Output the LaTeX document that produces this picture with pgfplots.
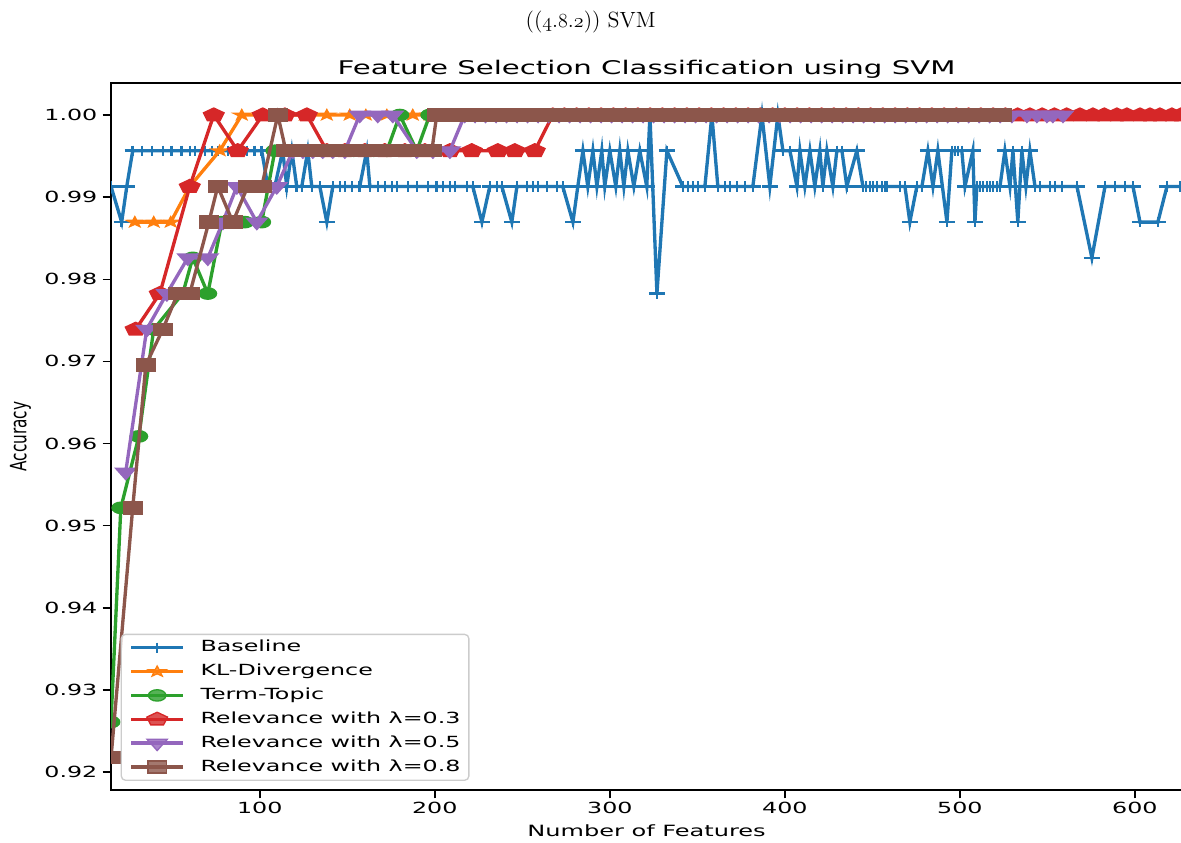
\documentclass[border=0pt]{standalone}
\usepackage{fontspec}
\usepackage{pgfplots}
\pgfplotsset{compat=1.18}
\usetikzlibrary{plotmarks}

\newfontfamily\plotfont{DejaVu Sans}[FakeStretch=1.55]
\newfontfamily\ylabfont{DejaVu Sans}[FakeStretch=0.68]
% old-style digits taken from the math italic font
\newcommand\osn[1]{{\fontencoding{OML}\fontfamily{cmm}\fontseries{m}\fontshape{it}\selectfont #1}}

\definecolor{c0}{HTML}{1F77B4}
\definecolor{c1}{HTML}{FF7F0E}
\definecolor{c2}{HTML}{2CA02C}
\definecolor{c3}{HTML}{D62728}
\definecolor{c4}{HTML}{9467BD}
\definecolor{c5}{HTML}{8C564B}

% filled five-pointed star
\pgfdeclareplotmark{fstar}{%
  \pgfpathmoveto{\pgfpointpolar{90}{\pgfplotmarksize}}%
  \pgfpathlineto{\pgfpointpolar{126}{0.4\pgfplotmarksize}}%
  \pgfpathlineto{\pgfpointpolar{162}{\pgfplotmarksize}}%
  \pgfpathlineto{\pgfpointpolar{198}{0.4\pgfplotmarksize}}%
  \pgfpathlineto{\pgfpointpolar{234}{\pgfplotmarksize}}%
  \pgfpathlineto{\pgfpointpolar{270}{0.4\pgfplotmarksize}}%
  \pgfpathlineto{\pgfpointpolar{306}{\pgfplotmarksize}}%
  \pgfpathlineto{\pgfpointpolar{342}{0.4\pgfplotmarksize}}%
  \pgfpathlineto{\pgfpointpolar{18}{\pgfplotmarksize}}%
  \pgfpathlineto{\pgfpointpolar{54}{0.4\pgfplotmarksize}}%
  \pgfpathclose
  \pgfusepathqfillstroke}

\begin{document}
\begin{tikzpicture}
\begin{axis}[
  at={(0,0)}, anchor=south west,
  scale only axis, width=642.6pt, height=424.2pt,
  xmin=15, xmax=627, ymin=0.9178, ymax=1.0039,
  clip marker paths=true,
  xtick={100,200,300,400,500,600},
  ytick={0.92,0.93,0.94,0.95,0.96,0.97,0.98,0.99,1.00},
  tick align=outside, xtick pos=left, ytick pos=left,
  major tick length=5pt,
  tick style={black, line width=0.9pt},
  axis line style={line width=1.1pt},
  /pgf/number format/assume math mode=true,
  tick label style={font=\plotfont\fontsize{9.2}{11}\selectfont},
  yticklabel style={/pgf/number format/fixed, /pgf/number format/fixed zerofill, /pgf/number format/precision=2, anchor=east, inner sep=0pt, xshift=-3pt},
  xticklabel style={anchor=north, inner sep=0pt, yshift=-1.8pt},
  title={Feature Selection Classification using SVM},
  title style={font=\plotfont\fontsize{11.3}{13}\selectfont, at={(axis description cs:0.5,1)}, anchor=base, yshift=-1pt, inner sep=0pt},
  xlabel={Number of Features},
  xlabel style={font=\plotfont\fontsize{9.3}{11}\selectfont, at={(axis description cs:0.5,-0.0651)}, anchor=base, inner sep=0pt},
  ylabel={Accuracy},
  ylabel style={font=\ylabfont\fontsize{13.5}{15}\selectfont, at={(axis description cs:-0.0845,0.5)}, anchor=center, inner sep=0pt},
  every axis plot/.append style={line width=2pt},
  legend style={at={(axis description cs:0.009,0.013)}, anchor=south west,
    draw=black!20, line width=0.8pt, rounded corners=2.5pt,
    fill=white, fill opacity=0.8, draw opacity=1, text opacity=1,
    font=\plotfont\fontsize{9.2}{11}\selectfont,
    inner xsep=5pt, inner ysep=3.5pt, row sep=5.3pt,
    nodes={inner sep=0pt, text height=7pt, text depth=2pt}},
  legend cell align=left,
  legend image code/.code={\draw[#1, mark repeat=2, mark phase=2] plot coordinates {(0pt,0pt) (15.5pt,0pt) (31pt,0pt)};},
  /tikz/every odd column/.append style={column sep=9.5pt},
]

% Baseline
\addplot[c0, mark=+, mark size=3.1pt, mark options={solid, xscale=1.55, line width=1.5pt}] coordinates {
(15,0.99130) (21.1,0.98696) (24.0,0.99130) (27.4,0.99565) (32.6,0.99565) (38.3,0.99565)
(44.6,0.99565) (49.7,0.99565) (55.4,0.99565) (60.0,0.99565) (62.9,0.99565) (68.6,0.99565)
(72.6,0.99565) (76.0,0.99565) (81.7,0.99565) (84.6,0.99565) (88.6,0.99565) (92.6,0.99565)
(97.1,0.99565) (101.1,0.99565) (104.6,0.99130) (108.6,0.99130) (113.1,0.99565) (115.4,0.99130)
(118.3,0.99565) (121.1,0.99130) (124.0,0.99130) (127.4,0.99565) (129.7,0.99130) (134.3,0.99130)
(138.3,0.98696) (141.7,0.99130) (145.7,0.99130) (148.6,0.99130) (152.6,0.99130) (157.1,0.99130)
(161.1,0.99565) (162.9,0.99130) (167.4,0.99130) (171.4,0.99130) (175.4,0.99130) (178.3,0.99130)
(184.6,0.99130) (189.7,0.99130) (196.0,0.99130) (201.1,0.99130) (204.6,0.99130) (208.6,0.99130)
(211.4,0.99130) (218.3,0.99130) (221.7,0.99130) (226.9,0.98696) (231.4,0.99130) (235.4,0.99130)
(238.3,0.99130) (244.0,0.98696) (246.9,0.99130) (252.6,0.99130) (256.0,0.99130) (258.9,0.99130)
(264.0,0.99130) (269.7,0.99130) (273.1,0.99130) (278.9,0.98696) (281.7,0.99130) (284.6,0.99565)
(287.4,0.99130) (290.3,0.99565) (292.6,0.99130) (295.4,0.99565) (297.1,0.99130) (300.0,0.99565)
(303.4,0.99130) (305.7,0.99565) (308.0,0.99130) (310.3,0.99565) (313.7,0.99130) (317.1,0.99565)
(321.1,0.99130) (322.9,1.00000) (326.9,0.97826) (332.6,0.99565) (341.7,0.99130) (344.6,0.99130)
(347.4,0.99130) (350.3,0.99130) (354.3,0.99130) (358.3,1.00000) (361.7,0.99130) (365.7,0.99130)
(368.6,0.99130) (372.6,0.99130) (377.1,0.99130) (381.7,0.99130) (386.9,1.00000) (391.4,0.99130)
(396.0,1.00000) (398.9,0.99565) (402.9,0.99565) (406.9,0.99130) (408.6,0.99565) (411.4,0.99130)
(414.3,0.99565) (417.1,0.99130) (420.0,0.99565) (421.7,0.99130) (424.0,0.99565) (427.4,0.99130)
(429.7,0.99565) (432.6,0.99565) (435.4,0.99130) (441.1,0.99565) (444.6,0.99130) (446.3,0.99130)
(448.6,0.99130) (450.3,0.99130) (452.6,0.99130) (455.4,0.99130) (457.1,0.99130) (458.3,0.99130)
(465.7,0.99130) (468.6,0.99130) (471.4,0.98696) (475.4,0.99130) (478.3,0.99130) (481.7,0.99565)
(484.6,0.99130) (487.4,0.99565) (492.6,0.98696) (495.4,0.99565) (497.1,0.99565) (498.9,0.99565)
(501.1,0.99565) (502.9,0.99130) (507.4,0.99565) (508.6,0.98696) (509.7,0.99130) (511.4,0.99130)
(513.1,0.99130) (515.4,0.99130) (517.1,0.99130) (518.9,0.99130) (521.1,0.99130) (522.9,0.99130)
(525.7,0.99565) (528.6,0.99130) (530.3,0.99565) (533.1,0.98696) (535.4,0.99565) (537.7,0.99130)
(540.0,0.99565) (542.9,0.99130) (545.7,0.99130) (551.4,0.99130) (554.3,0.99130) (558.3,0.99130)
(566.9,0.99130) (575.4,0.98261) (582.9,0.99130) (588.6,0.99130) (594.3,0.99130) (598.9,0.99130)
(602.9,0.98696) (613.1,0.98696) (618.3,0.99130) (625.7,0.99130)
};
\addlegendentry{Baseline}

% KL-Divergence
\addplot[c1, mark=fstar, mark size=3.3pt, mark options={solid, xscale=1.55, line width=0.8pt, fill=c1}] coordinates {
(28.6,0.98696) (39.4,0.98696) (49.1,0.98696) (60.0,0.99130) (77.1,0.99565) (89.7,1.00000)
(101.1,1.00000) (114.3,1.00000) (125.7,1.00000) (138.3,1.00000) (151.4,1.00000) (160.6,1.00000)
(172.6,1.00000) (187.4,1.00000) (197.1,1.00000) (204,1.00000) (211,1.00000) (218,1.00000)
(225,1.00000) (232,1.00000) (239,1.00000) (246,1.00000) (253,1.00000) (260,1.00000)
(267,1.00000) (274,1.00000) (281,1.00000) (288,1.00000) (295,1.00000) (302,1.00000)
(309,1.00000) (316,1.00000) (323,1.00000) (330,1.00000) (337,1.00000) (344,1.00000)
(351,1.00000) (358,1.00000) (365,1.00000) (372,1.00000) (379,1.00000) (386,1.00000)
(393,1.00000) (400,1.00000) (407,1.00000) (414,1.00000) (421,1.00000) (428,1.00000)
(435,1.00000) (442,1.00000) (449,1.00000) (456,1.00000) (463,1.00000) (470,1.00000)
(477,1.00000) (484,1.00000) (491,1.00000) (498,1.00000) (505,1.00000) (512,1.00000)
(519,1.00000) (526,1.00000) (533,1.00000) (540,1.00000) (547,1.00000)
};
\addlegendentry{KL-Divergence}

% Term-Topic
\addplot[c2, mark=*, mark size=3.4pt, mark options={solid, xscale=1.55, line width=0.8pt, fill=c2}] coordinates {
(15,0.92609) (20.6,0.95217) (30.9,0.96087) (39.4,0.97391) (56.0,0.97826) (61.7,0.98261)
(70.3,0.97826) (78.3,0.98696) (91.4,0.98696) (101.1,0.98696) (108.6,0.99565) (119.4,0.99565)
(130.9,0.99565) (142.3,0.99565) (153.7,0.99565) (165.1,0.99565) (172.6,0.99565) (180.0,1.00000)
(189.7,0.99565) (197.1,1.00000) (203,1.00000) (210,1.00000) (217,1.00000) (224,1.00000)
(231,1.00000) (238,1.00000) (245,1.00000) (252,1.00000) (259,1.00000) (266,1.00000)
(273,1.00000) (280,1.00000) (287,1.00000) (294,1.00000) (301,1.00000) (308,1.00000)
(315,1.00000) (322,1.00000) (329,1.00000) (336,1.00000) (343,1.00000) (350,1.00000)
(357,1.00000) (364,1.00000) (371,1.00000) (378,1.00000) (385,1.00000) (392,1.00000)
(399,1.00000) (406,1.00000) (413,1.00000) (420,1.00000) (427,1.00000) (434,1.00000)
(441,1.00000) (448,1.00000) (455,1.00000) (462,1.00000) (469,1.00000) (476,1.00000)
(483,1.00000) (490,1.00000) (497,1.00000) (504,1.00000) (511,1.00000) (518,1.00000)
};
\addlegendentry{Term-Topic}

% Relevance, lambda = 0.3
\addplot[c3, mark=pentagon*, mark size=4.2pt, mark options={solid, xscale=1.55, line width=0.8pt, fill=c3}] coordinates {
(29.1,0.97391) (42.9,0.97826) (60.0,0.99130) (73.7,1.00000) (87.4,0.99565) (101.7,1.00000)
(114.3,1.00000) (126.9,1.00000) (138.3,0.99565) (148.6,0.99565) (160.0,0.99565) (171.4,0.99565)
(182.9,0.99565) (194.3,0.99565) (208.6,0.99565) (221.1,0.99565) (236.0,0.99565) (245.7,0.99565)
(257.1,0.99565) (267.4,1.00000) (274,1.00000) (281,1.00000) (288,1.00000) (295,1.00000)
(302,1.00000) (309,1.00000) (316,1.00000) (323,1.00000) (330,1.00000) (337,1.00000)
(344,1.00000) (351,1.00000) (358,1.00000) (365,1.00000) (372,1.00000) (379,1.00000)
(386,1.00000) (393,1.00000) (400,1.00000) (407,1.00000) (414,1.00000) (421,1.00000)
(428,1.00000) (435,1.00000) (442,1.00000) (449,1.00000) (456,1.00000) (463,1.00000)
(470,1.00000) (477,1.00000) (484,1.00000) (491,1.00000) (498,1.00000) (505,1.00000)
(512,1.00000) (519,1.00000) (526,1.00000) (533,1.00000) (540,1.00000) (547,1.00000)
(554,1.00000) (561,1.00000) (568.6,1.00000) (576,1.00000) (582.5,1.00000) (589.7,1.00000)
(595.4,1.00000) (602.9,1.00000) (608.6,1.00000) (614.3,1.00000) (621.1,1.00000) (626.3,1.00000)
};
\addlegendentry{Relevance with λ=0.3}

% Relevance, lambda = 0.5
\addplot[c4, mark=triangle*, mark size=4.5pt, mark options={solid, rotate=180, xscale=1.55, line width=0.8pt, fill=c4}] coordinates {
(23.4,0.95652) (35.4,0.97391) (46.9,0.97826) (58.9,0.98261) (70.3,0.98261) (78.9,0.98696)
(86.9,0.99130) (98.3,0.98696) (109.7,0.99130) (118.9,0.99565) (124.6,0.99565) (130.3,0.99565)
(136.0,0.99565) (141.7,0.99565) (148.6,0.99565) (157.1,1.00000) (167.4,1.00000) (176.0,1.00000)
(189.7,0.99565) (198.9,0.99565) (208.6,0.99565) (217.1,1.00000) (223,1.00000) (229,1.00000)
(235,1.00000) (241,1.00000) (247,1.00000) (253,1.00000) (259,1.00000) (265,1.00000)
(271,1.00000) (277,1.00000) (283,1.00000) (289,1.00000) (295,1.00000) (301,1.00000)
(307,1.00000) (313,1.00000) (319,1.00000) (325,1.00000) (331,1.00000) (337,1.00000)
(343,1.00000) (349,1.00000) (355,1.00000) (361,1.00000) (367,1.00000) (373,1.00000)
(379,1.00000) (385,1.00000) (391,1.00000) (397,1.00000) (403,1.00000) (409,1.00000)
(415,1.00000) (421,1.00000) (427,1.00000) (433,1.00000) (439,1.00000) (445,1.00000)
(451,1.00000) (457,1.00000) (463,1.00000) (469,1.00000) (475,1.00000) (481,1.00000)
(487,1.00000) (493,1.00000) (499,1.00000) (505,1.00000) (511,1.00000) (517,1.00000)
(523,1.00000) (529.7,1.00000) (538.3,1.00000) (544,1.00000) (549.7,1.00000) (553.1,1.00000)
(558.9,1.00000)
};
\addlegendentry{Relevance with λ=0.5}

% Relevance, lambda = 0.8
\addplot[c5, mark=square*, mark size=3.6pt, mark options={solid, xscale=1.55, line width=0.8pt, fill=c5}] coordinates {
(15,0.92174) (27.4,0.95217) (34.9,0.96957) (44.6,0.97391) (53.1,0.97826) (60.0,0.97826)
(70.9,0.98696) (76.0,0.99130) (84.6,0.98696) (93.1,0.99130) (101.1,0.99130) (110.3,1.00000)
(114.9,0.99565) (120.0,0.99565) (124.6,0.99565) (128.6,0.99565) (133.1,0.99565) (137.1,0.99565)
(141.7,0.99565) (145.7,0.99565) (150.3,0.99565) (154.3,0.99565) (158.9,0.99565) (162.9,0.99565)
(167.4,0.99565) (171.4,0.99565) (176.0,0.99565) (180.0,0.99565) (184.6,0.99565) (188.6,0.99565)
(193.1,0.99565) (198.3,0.99565) (201.1,1.00000) (206.5,1.00000) (212,1.00000) (217.5,1.00000)
(223,1.00000) (228.5,1.00000) (234,1.00000) (239.5,1.00000) (245,1.00000) (250.5,1.00000)
(256,1.00000) (261.5,1.00000) (267,1.00000) (272.5,1.00000) (278,1.00000) (283.5,1.00000)
(289,1.00000) (294.5,1.00000) (300,1.00000) (305.5,1.00000) (311,1.00000) (316.5,1.00000)
(322,1.00000) (327.5,1.00000) (333,1.00000) (338.5,1.00000) (344,1.00000) (349.5,1.00000)
(355,1.00000) (360.5,1.00000) (366,1.00000) (371.5,1.00000) (377,1.00000) (382.5,1.00000)
(388,1.00000) (393.5,1.00000) (399,1.00000) (404.5,1.00000) (410,1.00000) (415.5,1.00000)
(421,1.00000) (426.5,1.00000) (432,1.00000) (437.5,1.00000) (443,1.00000) (448.5,1.00000)
(454,1.00000) (459.5,1.00000) (465,1.00000) (470.5,1.00000) (476,1.00000) (481.5,1.00000)
(487,1.00000) (492.5,1.00000) (498,1.00000) (503.5,1.00000) (509,1.00000) (514.5,1.00000)
(520,1.00000) (524,1.00000)
};
\addlegendentry{Relevance with λ=0.8}
\end{axis}

% caption line above the plot
\node[font=\rmfamily\fontsize{13.2}{15}\selectfont, anchor=base] at (287.7pt,457.5pt) {((\osn{4}.\osn{8}.\osn{2})) SVM};

\pgfresetboundingbox
\path[use as bounding box] (-66.6pt,-31.6pt) rectangle (641.9pt,474pt);
\end{tikzpicture}
\end{document}
